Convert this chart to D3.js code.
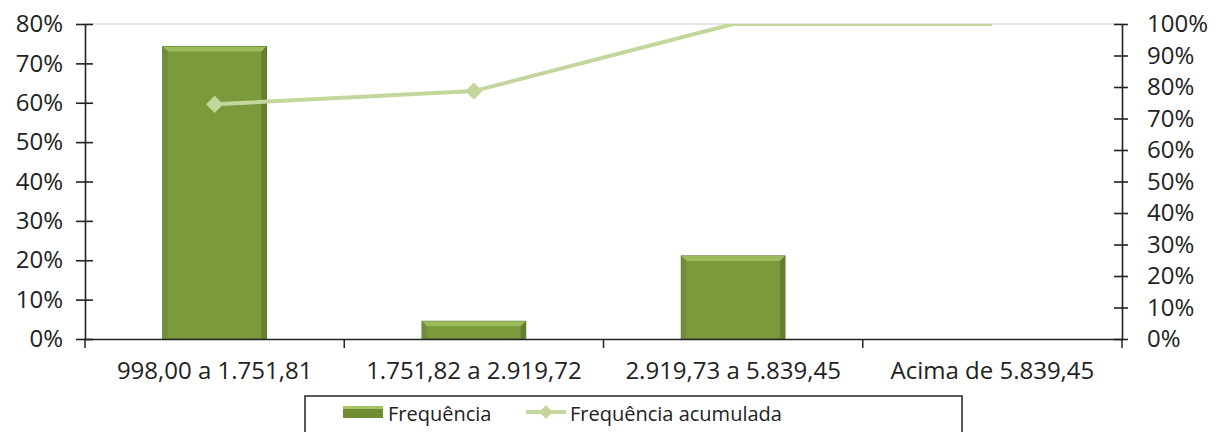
<!DOCTYPE html>
<html>
<head>
<meta charset="utf-8">
<script src="https://cdn.jsdelivr.net/npm/d3@7"></script>
<style>
  body { margin: 0; background: #fff; }
  svg { display: block; }
  text { font-family: "Open Sans", sans-serif; fill: #222; }
</style>
</head>
<body>
<svg id="chart" width="1227" height="432"></svg>
<script>
// faixas salariais
var categories = ["998,00 a 1.751,81", "1.751,82 a 2.919,72", "2.919,73 a 5.839,45", "Acima de 5.839,45"];
var frequencia = [0.743, 0.045, 0.211, 0];
var acumulada = [0.745, 0.787, 1.0, 1.0];
var leftTicks = [0, 0.1, 0.2, 0.3, 0.4, 0.5, 0.6, 0.7, 0.8];
var rightTicks = [0, 0.1, 0.2, 0.3, 0.4, 0.5, 0.6, 0.7, 0.8, 0.9, 1.0];

var svg = d3.select("#chart");
var pL = 85, pR = 1122, pT = 24, pB = 339;

var x = d3.scaleBand().domain(categories).range([pL, pR]).paddingInner(0.6).paddingOuter(0.3);
var xc = d3.scaleBand().domain(categories).range([pL, pR]);
var yL = d3.scaleLinear().domain([0, 0.8]).range([pB, pT]);
var yR = d3.scaleLinear().domain([0, 1]).range([pB, pT]);
var pct = function(d) { return Math.round(d * 100) + "%"; };

// borda superior da área de plotagem
svg.append("line")
  .attr("x1", pL).attr("x2", pR).attr("y1", pT).attr("y2", pT)
  .attr("stroke", "#e4e4e4").attr("stroke-width", 2);

// barras com efeito chanfrado
var bw = x.bandwidth();
var bars = svg.append("g").selectAll("g").data(frequencia).enter().append("g")
  .attr("transform", function(d, i) { return "translate(" + x(categories[i]) + ",0)"; });
bars.append("rect")
  .attr("y", function(d) { return yL(d); })
  .attr("width", bw)
  .attr("height", function(d) { return pB - yL(d); })
  .attr("fill", "#7a9a3c")
  .attr("stroke", function(d) { return d > 0 ? "#5a7028" : "none"; })
  .attr("stroke-width", 1);
var bev = 5;
var vis = bars.filter(function(d) { return d > 0; });
vis.append("path")
  .attr("d", function(d) {
    var t = yL(d), b = Math.min(t + bev, pB);
    return "M0," + t + "L" + bw + "," + t + "L" + (bw - bev) + "," + b + "L" + bev + "," + b + "Z";
  })
  .attr("fill", "#9cbb5c");
vis.append("path")
  .attr("d", function(d) {
    var t = yL(d);
    return "M" + bw + "," + t + "L" + bw + "," + pB + "L" + (bw - bev) + "," + pB + "L" + (bw - bev) + "," + (t + bev) + "Z";
  })
  .attr("fill", "#647f2e");
vis.append("path")
  .attr("d", function(d) {
    var t = yL(d);
    return "M0," + t + "L" + bev + "," + (t + bev) + "L" + bev + "," + pB + "L0," + pB + "Z";
  })
  .attr("fill", "#708d37");

// linha acumulada (recortada na borda superior)
svg.append("clipPath").attr("id", "plot")
  .append("rect").attr("x", pL).attr("y", pT).attr("width", pR - pL).attr("height", pB - pT);
var lineG = svg.append("g").attr("clip-path", "url(#plot)");
var cx = function(i) { return xc(categories[i]) + xc.bandwidth() / 2; };
var line = d3.line()
  .x(function(d, i) { return cx(i); })
  .y(function(d) { return yR(d); });
lineG.append("path")
  .attr("d", line(acumulada))
  .attr("fill", "none")
  .attr("stroke", "#c3d69b")
  .attr("stroke-width", 4);
lineG.selectAll("path.mk").data(acumulada).enter().append("path")
  .attr("class", "mk")
  .attr("d", d3.symbol().type(d3.symbolDiamond2).size(190))
  .attr("transform", function(d, i) { return "translate(" + cx(i) + "," + yR(d) + ")"; })
  .attr("fill", function(d) { return d < 1 ? "#c3d69b" : "none"; });

// eixos
var axL = svg.append("g").attr("transform", "translate(" + pL + ",0)")
  .call(d3.axisLeft(yL).tickValues(leftTicks).tickFormat(pct).tickSize(9).tickSizeOuter(0));
var axR = svg.append("g").attr("transform", "translate(" + pR + ",0)")
  .call(d3.axisRight(yR).tickValues(rightTicks).tickFormat(pct).tickSize(6).tickSizeOuter(0));
axL.selectAll(".tick line").attr("x1", 8);
axR.selectAll(".tick line").attr("x1", -8);
var axB = svg.append("g").attr("transform", "translate(0," + pB + ")")
  .call(d3.axisBottom(xc).tickSize(0).tickSizeOuter(0).tickPadding(20));
axB.selectAll(".tick line").remove();
axB.selectAll("line.sep").data(d3.range(categories.length + 1)).enter().append("line")
  .attr("class", "sep")
  .attr("x1", function(i) { return pL + i * xc.step(); })
  .attr("x2", function(i) { return pL + i * xc.step(); })
  .attr("y1", 0).attr("y2", 9)
  .attr("stroke", "#222").attr("stroke-width", 1.5);
svg.selectAll(".domain").attr("stroke", "#222").attr("stroke-width", 1.6);
svg.selectAll(".tick line").attr("stroke", "#222").attr("stroke-width", 1.6);
svg.selectAll(".tick text").attr("font-family", "Open Sans").attr("font-size", 24).attr("fill", "#333");
axL.selectAll(".tick text").attr("x", -22);
axR.selectAll(".tick text").attr("x", 25);
axB.selectAll(".tick text").attr("dy", "0.85em");

// legenda
var leg = svg.append("g");
leg.append("rect").attr("x", 305).attr("y", 396).attr("width", 657).attr("height", 40)
  .attr("fill", "#fff").attr("stroke", "#222").attr("stroke-width", 1.5);
leg.append("rect").attr("x", 343).attr("y", 406).attr("width", 40).attr("height", 12).attr("fill", "#6f8c35");
leg.append("rect").attr("x", 343).attr("y", 406).attr("width", 40).attr("height", 3).attr("fill", "#a6c463");
leg.append("text").attr("x", 388).attr("y", 421).attr("font-size", 20).attr("fill", "#333").text("Frequência");
leg.append("line").attr("x1", 526).attr("x2", 566).attr("y1", 412).attr("y2", 412)
  .attr("stroke", "#c3d69b").attr("stroke-width", 4);
leg.append("path").attr("d", d3.symbol().type(d3.symbolDiamond2).size(120))
  .attr("transform", "translate(546,412)").attr("fill", "#c3d69b");
leg.append("text").attr("x", 570).attr("y", 421).attr("font-size", 20).attr("fill", "#333").text("Frequência acumulada");
</script>
</body>
</html>
